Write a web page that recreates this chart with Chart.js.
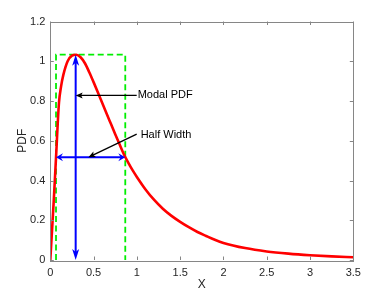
<!DOCTYPE html>
<html>
<head>
<meta charset="utf-8">
<script src="https://cdn.jsdelivr.net/npm/chart.js@4.4.1/dist/chart.umd.min.js"></script>
<style>
  html, body { margin: 0; padding: 0; background: #ffffff; }
  canvas { display: block; }
</style>
</head>
<body>
<canvas id="c" width="390" height="293"></canvas>
<script>
// ---- Data ----
const curveX = [0, 0.02, 0.04, 0.066, 0.1, 0.125, 0.15, 0.2, 0.25, 0.3, 0.35, 0.4, 0.45, 0.5, 0.55, 0.6, 0.65, 0.7, 0.75, 0.8, 0.85, 0.9, 0.95, 1.0, 1.1, 1.2, 1.3, 1.4, 1.5, 1.6, 1.7, 1.8, 1.9, 2.0, 2.25, 2.5, 2.75, 3.0, 3.25, 3.5];
const curveY = [0, 0.15, 0.30, 0.515, 0.79, 0.875, 0.93, 1.0, 1.028, 1.033, 1.02, 0.99, 0.945, 0.895, 0.843, 0.79, 0.737, 0.685, 0.633, 0.582, 0.532, 0.49, 0.452, 0.418, 0.355, 0.302, 0.258, 0.222, 0.192, 0.165, 0.141, 0.121, 0.102, 0.086, 0.06, 0.043, 0.032, 0.024, 0.018, 0.014];

const xTicks = [0, 0.5, 1, 1.5, 2, 2.5, 3, 3.5];
const xTickLabels = ['0', '0.5', '1', '1.5', '2', '2.5', '3', '3.5'];
const yTicks = [0, 0.2, 0.4, 0.6, 0.8, 1.0, 1.2];
const yTickLabels = ['0', '0.2', '0.4', '0.6', '0.8', '1', '1.2'];

// annotation values (data units)
const modeX = 0.293;
const peakY = 1.033;
const halfLo = 0.066;
const halfHi = 0.866;
const halfY = 0.517;
const annLabels = ['Modal PDF', 'Half Width'];
const annFrom = [[0.998, 0.828], [0.998, 0.633]];
const annTip = [[0.293, 0.828], [0.44, 0.517]];
const annText = [[1.009, 0.828], [1.044, 0.63]];

// ---- helpers ----
function head(ctx, tx, ty, fx, fy, len, half, notch, color) {
  const a = Math.atan2(ty - fy, tx - fx);
  const dx = Math.cos(a), dy = Math.sin(a);
  const px = -dy, py = dx;
  const bx = tx - dx * len, by = ty - dy * len;
  const nx = tx - dx * (len - notch), ny = ty - dy * (len - notch);
  ctx.beginPath();
  ctx.moveTo(tx, ty);
  ctx.lineTo(bx + px * half, by + py * half);
  ctx.lineTo(nx, ny);
  ctx.lineTo(bx - px * half, by - py * half);
  ctx.closePath();
  ctx.fillStyle = color;
  ctx.fill();
}

const framePlugin = {
  id: 'frame',
  beforeDatasetsDraw(chart) {
    const ctx = chart.ctx, xs = chart.scales.x, ys = chart.scales.y;
    ctx.save();
    ctx.strokeStyle = '#00ee00';
    ctx.lineWidth = 1.8;
    ctx.setLineDash([6, 3.5]);
    const l = xs.getPixelForValue(halfLo), r = xs.getPixelForValue(halfHi);
    const t = ys.getPixelForValue(peakY), b = ys.getPixelForValue(0);
    ctx.beginPath();
    ctx.moveTo(l, b); ctx.lineTo(l, t); ctx.lineTo(r, t); ctx.lineTo(r, b);
    ctx.stroke();
    ctx.restore();
  },
  afterDatasetsDraw(chart) {
    const ctx = chart.ctx, xs = chart.scales.x, ys = chart.scales.y;
    const ca = chart.chartArea;
    ctx.save();
    const mx = xs.getPixelForValue(modeX);
    const pTop = ys.getPixelForValue(peakY), pBot = ys.getPixelForValue(0);
    ctx.strokeStyle = '#0000ff';
    ctx.lineWidth = 2;
    ctx.beginPath();
    ctx.moveTo(mx, pBot - 6); ctx.lineTo(mx, pTop + 6);
    ctx.stroke();
    head(ctx, mx, pTop, mx, pBot, 11, 3.5, 3, '#0000ff');
    head(ctx, mx, pBot, mx, pTop, 11, 3.5, 3, '#0000ff');
    const hl = xs.getPixelForValue(halfLo), hr = xs.getPixelForValue(halfHi);
    const hy = ys.getPixelForValue(halfY);
    ctx.beginPath();
    ctx.moveTo(hl + 4, hy); ctx.lineTo(hr - 4, hy);
    ctx.stroke();
    head(ctx, hl, hy, hr, hy, 7, 4, 2.5, '#0000ff');
    head(ctx, hr, hy, hl, hy, 7, 4, 2.5, '#0000ff');
    ctx.strokeStyle = '#000000';
    ctx.lineWidth = 1.3;
    ctx.font = '11px "Liberation Sans", Arial, sans-serif';
    ctx.textAlign = 'left';
    ctx.textBaseline = 'middle';
    for (let i = 0; i < annLabels.length; i++) {
      const fx = xs.getPixelForValue(annFrom[i][0]), fy = ys.getPixelForValue(annFrom[i][1]);
      const tx = xs.getPixelForValue(annTip[i][0]), ty = ys.getPixelForValue(annTip[i][1]);
      const a = Math.atan2(ty - fy, tx - fx);
      ctx.beginPath();
      ctx.moveTo(fx, fy);
      ctx.lineTo(tx - Math.cos(a) * 5, ty - Math.sin(a) * 5);
      ctx.stroke();
      head(ctx, tx, ty, fx, fy, 7, 3, 1.5, '#000000');
      ctx.fillStyle = '#000000';
      ctx.fillText(annLabels[i], xs.getPixelForValue(annText[i][0]), ys.getPixelForValue(annText[i][1]));
    }
    ctx.strokeStyle = '#868686';
    ctx.lineWidth = 1;
    ctx.strokeRect(Math.round(ca.left) + 0.5, Math.round(ca.top) + 0.5, Math.round(ca.right - ca.left), Math.round(ca.bottom - ca.top));
    const tl = 3.5;
    ctx.beginPath();
    xTicks.forEach(v => {
      const x = Math.round(xs.getPixelForValue(v)) + 0.5;
      ctx.moveTo(x, ca.bottom); ctx.lineTo(x, ca.bottom - tl);
      ctx.moveTo(x, ca.top); ctx.lineTo(x, ca.top + tl);
    });
    yTicks.forEach(v => {
      const y = Math.round(ys.getPixelForValue(v)) + 0.5;
      ctx.moveTo(ca.left, y); ctx.lineTo(ca.left + tl, y);
      ctx.moveTo(ca.right, y); ctx.lineTo(ca.right - tl, y);
    });
    ctx.stroke();
    ctx.restore();
  }
};

const tickFont = { family: '"Liberation Sans", Arial, sans-serif', size: 11 };
const titleFont = { family: '"Liberation Sans", Arial, sans-serif', size: 12 };

new Chart(document.getElementById('c').getContext('2d'), {
  type: 'scatter',
  data: {
    datasets: [{
      data: curveX.map((x, i) => ({ x: x, y: curveY[i] })),
      showLine: true,
      borderColor: '#ff0000',
      borderWidth: 2.6,
      pointRadius: 0,
      cubicInterpolationMode: 'monotone',
      fill: false
    }]
  },
  options: {
    responsive: false,
    animation: false,
    devicePixelRatio: 1,
    layout: { padding: { top: 21.5, right: 36.7, left: 0, bottom: 0 } },
    plugins: { legend: { display: false }, tooltip: { enabled: false } },
    scales: {
      x: {
        type: 'linear', min: 0, max: 3.5,
        grid: { display: false, drawTicks: false },
        border: { display: false },
        afterBuildTicks: s => { s.ticks = xTicks.map(v => ({ value: v })); },
        ticks: {
          font: tickFont, color: '#262626', padding: 6, maxRotation: 0,
          callback: (v) => { const i = xTicks.indexOf(v); return i >= 0 ? xTickLabels[i] : ''; }
        },
        title: { display: true, text: 'X', font: titleFont, color: '#262626', padding: { top: 0, bottom: 1 } },
        afterFit: s => { s.height = 33; }
      },
      y: {
        type: 'linear', min: 0, max: 1.2,
        grid: { display: false, drawTicks: false },
        border: { display: false },
        afterBuildTicks: s => { s.ticks = yTicks.map(v => ({ value: v })); },
        ticks: {
          font: tickFont, color: '#262626', padding: 5,
          callback: (v) => { const i = yTicks.findIndex(t => Math.abs(t - v) < 1e-9); return i >= 0 ? yTickLabels[i] : ''; }
        },
        title: { display: true, text: 'PDF', font: titleFont, color: '#262626', padding: { top: 15, bottom: 0 } },
        afterFit: s => { s.width = 50.3; }
      }
    }
  },
  plugins: [framePlugin]
});
</script>
</body>
</html>
